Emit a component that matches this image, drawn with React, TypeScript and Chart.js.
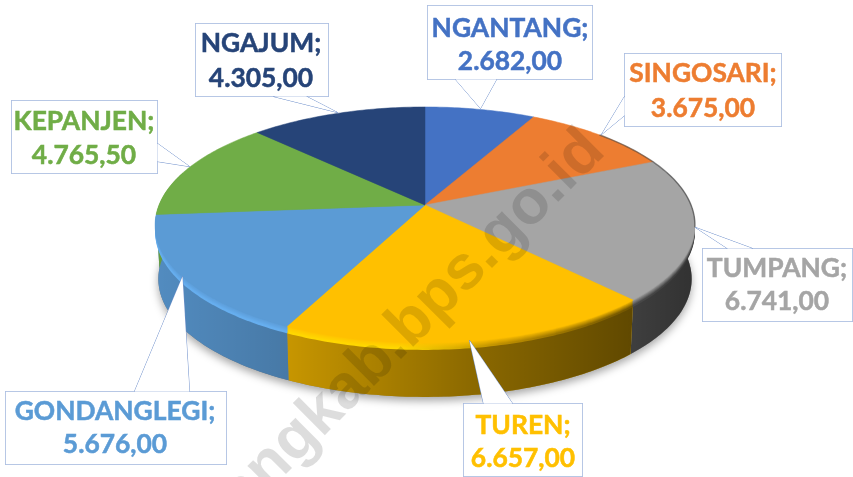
import React, { useEffect, useRef } from "react";
import { Chart, registerables } from "chart.js";

Chart.register(...registerables);

const categories = ["NGANTANG", "SINGOSARI", "TUMPANG", "TUREN", "GONDANGLEGI", "KEPANJEN", "NGAJUM"];
const values = [2682, 3675, 6741, 6657, 5676, 4765.5, 4305];
const sliceColors = ["#4472C4", "#ED7D31", "#A5A5A5", "#FFC000", "#5B9BD5", "#70AD47", "#264478"];
const labelColors = ["#4472C4", "#ED7D31", "#A5A5A5", "#FFC000", "#5B9BD5", "#70AD47", "#264478"];

const WATERMARK = "malangkab.bps.go.id";

// label box layout: box [x0,y0,x1,y1], text centre x, two line centres, wedge
type Callout = { box: number[]; tx: number; ly: number[]; wedge: number[][] };
const callouts: Callout[] = [
  { box: [427, 5, 592, 79], tx: 510, ly: [28, 61], wedge: [[496, 79], [480, 108], [455, 79]] },
  { box: [624, 53, 781, 126], tx: 703, ly: [73, 108], wedge: [[624, 115], [601, 134], [624, 96]] },
  { box: [702, 248, 852, 321], tx: 777, ly: [268, 301], wedge: [[727, 248], [695, 227], [752, 248]] },
  { box: [463, 403, 582, 476], tx: 523, ly: [425, 458], wedge: [[483, 403], [469, 340], [512, 403]] },
  { box: [5, 391, 226, 464], tx: 115, ly: [411, 444], wedge: [[134, 391], [182, 276], [189, 391]] },
  { box: [11, 100, 157, 173], tx: 84, ly: [121, 155], wedge: [[157, 143], [189, 166], [157, 161]] },
  { box: [195, 23, 328, 96], tx: 261, ly: [43, 78], wedge: [[273, 96], [337, 112], [306, 96]] },
];

const CX = 425, CY = 205, RX = 266, RY = 114.6, K = 0.169, DEPTH = 54;

const project = (a: number, level: number) => {
  const u = Math.cos(a), v = Math.sin(a);
  const w = 1 / (1 - K * v);
  return { x: CX + RX * u * w * (1 - 0.012 * level), y: CY + RY * v * w + DEPTH * level };
};

const hex = (c: string) => [1, 3, 5].map((i) => parseInt(c.slice(i, i + 2), 16));

const shadeXs = [155, 287, 470, 630, 695];
const shadeVals = [0.9, 0.78, 0.55, 0.38, 0.3];
const rimXs = [155, 400, 500, 630, 695];
const rimVals = [1.12, 1.12, 0.75, 0.45, 0.35];
const X0 = 155, X1 = 695;

const formatValue = (v: number) => {
  const [i, d] = v.toFixed(2).split(".");
  return i.replace(/\B(?=(\d{3})+(?!\d))/g, ".") + "," + d;
};

const slicePath = (ctx: CanvasRenderingContext2D, a1: number, a2: number, dy: number) => {
  ctx.beginPath();
  ctx.moveTo(CX, CY + dy);
  const n = Math.max(8, Math.ceil((a2 - a1) * 60));
  for (let i = 0; i <= n; i++) {
    const p = project(a1 + ((a2 - a1) * i) / n, 0);
    ctx.lineTo(p.x, p.y + dy);
  }
  ctx.closePath();
};

const pie3d = {
  id: "pie3d",
  beforeDatasetsDraw(chart: any) {
    const ctx: CanvasRenderingContext2D = chart.ctx;
    const arcs = chart.getDatasetMeta(0).data as any[];
    ctx.save();

    // soft shadow under the disc
    ctx.save();
    ctx.shadowColor = "rgba(0,0,0,0.35)";
    ctx.shadowBlur = 9;
    ctx.shadowOffsetY = 4;
    ctx.fillStyle = "#777";
    ctx.beginPath();
    for (let i = 0; i <= 240; i++) {
      const p = project((i / 240) * Math.PI * 2, 1);
      if (i === 0) ctx.moveTo(p.x, p.y);
      else ctx.lineTo(p.x, p.y);
    }
    ctx.closePath();
    ctx.fill();
    ctx.restore();

    const wallGrad = ctx.createLinearGradient(X0, 0, X1, 0);
    shadeXs.forEach((x, i) => wallGrad.addColorStop((x - X0) / (X1 - X0), `rgba(0,0,0,${1 - shadeVals[i]})`));

    // side wall
    const lo = -0.3, hi = Math.PI + 0.3;
    arcs.forEach((arc, idx) => {
      const a1 = Math.max(arc.startAngle, lo), a2 = Math.min(arc.endAngle, hi);
      if (a2 <= a1) return;
      const n = Math.ceil((a2 - a1) * 60);
      ctx.beginPath();
      for (let i = 0; i <= n; i++) {
        const p = project(a1 + ((a2 - a1) * i) / n, 0);
        if (i === 0) ctx.moveTo(p.x, p.y);
        else ctx.lineTo(p.x, p.y);
      }
      for (let i = n; i >= 0; i--) {
        const p = project(a1 + ((a2 - a1) * i) / n, 1);
        ctx.lineTo(p.x, p.y);
      }
      ctx.closePath();
      ctx.fillStyle = sliceColors[idx];
      ctx.fill();
      ctx.fillStyle = wallGrad;
      ctx.fill();
    });

    // bevel layers
    const layers = 7;
    for (let dy = layers; dy >= 1; dy--) {
      const f = Math.min(1, dy / 6);
      arcs.forEach((arc, idx) => {
        const base = hex(sliceColors[idx]);
        const g = ctx.createLinearGradient(X0, 0, X1, 0);
        rimXs.forEach((x, i) => {
          const m = 1 + (rimVals[i] - 1) * f;
          const [r, gg, b] = base.map((c) => Math.min(255, Math.round(c * m)));
          g.addColorStop((x - X0) / (X1 - X0), `rgb(${r},${gg},${b})`);
        });
        slicePath(ctx, arc.startAngle, arc.endAngle, dy);
        ctx.fillStyle = g;
        ctx.fill();
      });
    }

    // top faces
    arcs.forEach((arc, idx) => {
      slicePath(ctx, arc.startAngle, arc.endAngle, 0);
      ctx.fillStyle = sliceColors[idx];
      ctx.strokeStyle = sliceColors[idx];
      ctx.lineWidth = 0.5;
      ctx.fill();
      ctx.stroke();
    });

    // dark edge at the far right of the rim
    ctx.beginPath();
    for (let a = -0.75; a <= 0.2; a += 0.02) {
      const p = project(a, 0);
      if (a === -0.75) ctx.moveTo(p.x, p.y);
      else ctx.lineTo(p.x, p.y);
    }
    ctx.strokeStyle = "rgba(60,60,60,0.55)";
    ctx.lineWidth = 1.5;
    ctx.stroke();

    // label boxes
    arcs.forEach((_arc, idx) => {
      const c = callouts[idx];
      const [x0, y0, x1, y1] = c.box;
      ctx.beginPath();
      ctx.rect(x0 + 0.5, y0 + 0.5, x1 - x0, y1 - y0);
      ctx.fillStyle = "#fff";
      ctx.strokeStyle = "#6E8FCB";
      ctx.lineWidth = 1;
      ctx.stroke();
      ctx.fill();
      // wedge
      ctx.beginPath();
      ctx.moveTo(c.wedge[0][0] + 0.5, c.wedge[0][1] + 0.5);
      ctx.lineTo(c.wedge[1][0] + 0.5, c.wedge[1][1] + 0.5);
      ctx.lineTo(c.wedge[2][0] + 0.5, c.wedge[2][1] + 0.5);
      ctx.stroke();
      ctx.closePath();
      ctx.fill();
      ctx.font = "bold 26.4px Lato";
      ctx.textAlign = "center";
      ctx.textBaseline = "middle";
      ctx.fillStyle = labelColors[idx];
      ctx.strokeStyle = labelColors[idx];
      ctx.lineWidth = 0.5;
      const l1 = categories[idx] + ";";
      const l2 = formatValue(values[idx]);
      ctx.fillText(l1, c.tx, c.ly[0]);
      ctx.strokeText(l1, c.tx, c.ly[0]);
      ctx.fillText(l2, c.tx, c.ly[1]);
      ctx.strokeText(l2, c.tx, c.ly[1]);
    });

    // watermark
    ctx.save();
    ctx.translate(607, 153);
    ctx.rotate((-45 * Math.PI) / 180);
    ctx.font = "bold 62.6px 'Liberation Sans'";
    ctx.textAlign = "right";
    ctx.textBaseline = "alphabetic";
    ctx.fillStyle = "rgba(0,0,0,0.135)";
    ctx.fillText(WATERMARK, 0, 0);
    ctx.restore();

    ctx.restore();
    return false;
  },
};

export default function App() {
  const ref = useRef<HTMLCanvasElement>(null);
  useEffect(() => {
    if (!ref.current) return;
    const chart = new Chart(ref.current, {
      type: "pie",
      data: {
        labels: categories,
        datasets: [{ data: values, backgroundColor: sliceColors, borderWidth: 0 }],
      },
      options: {
        responsive: false,
        animation: false,
        plugins: { legend: { display: false }, tooltip: { enabled: false } },
      },
      plugins: [pie3d as any],
    });
    return () => chart.destroy();
  }, []);
  return (
    <div style={{ position: "fixed", left: 0, top: 0, width: 853, height: 477, background: "#fff", overflow: "hidden" }}>
      <canvas ref={ref} width={853} height={477} style={{ display: "block" }} />
    </div>
  );
}
